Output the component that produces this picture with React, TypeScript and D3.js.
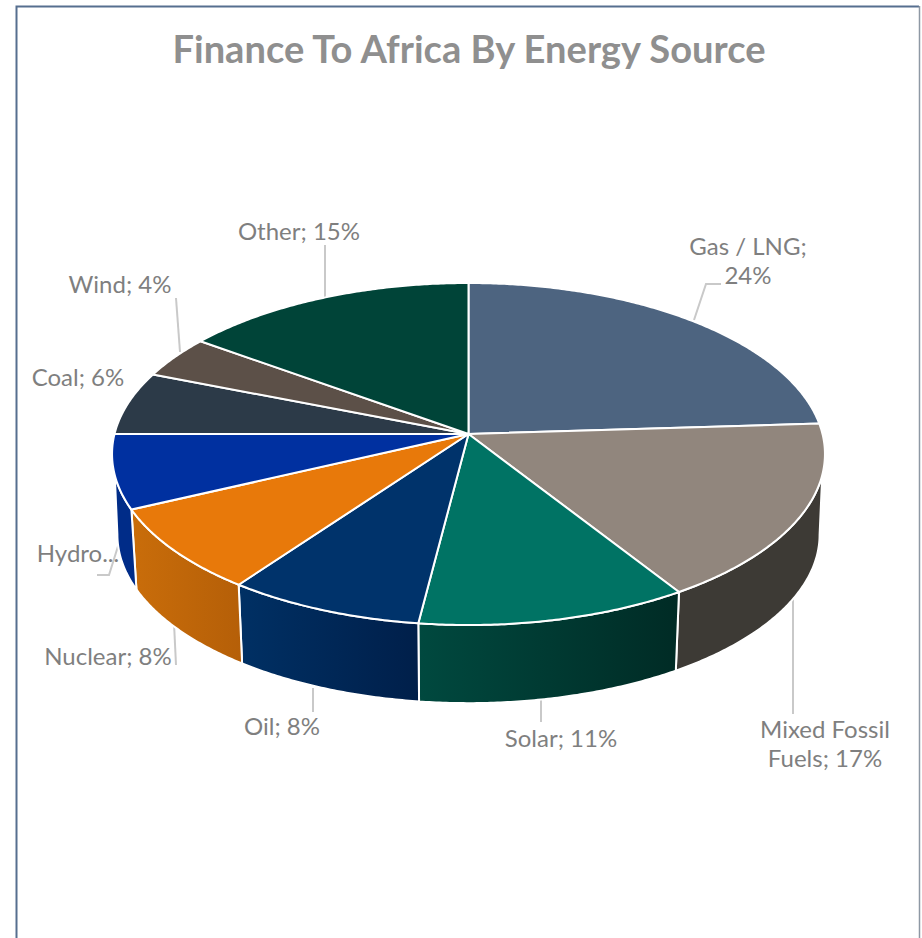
import React from "react";
import * as d3 from "d3";

// Share of finance by energy source, clockwise from twelve o'clock.
const sources = ["Gas / LNG", "Mixed Fossil Fuels", "Solar", "Oil", "Nuclear", "Hydro", "Coal", "Wind", "Other"];
const shares = [24, 17, 11, 8, 8, 7, 6, 4, 15];
const topColors = ["#4d6480", "#91867d", "#007364", "#00336b", "#e8790a", "#0030a0", "#2c3a48", "#5c5048", "#004438"];
const wallStart = ["#3d3a35", "#3d3a35", "#00493f", "#003064", "#c96d0a", "#002c88", "#222", "#222", "#222"];
const wallEnd = ["#3d3a35", "#3d3a35", "#002b25", "#001f4a", "#b55f08", "#002c88", "#222", "#222", "#222"];

const W = 922;
const H = 938;
const FONT = "Lato, 'Open Sans', sans-serif";
const LABEL = "#7f7f7f";
const LEADER = "#c9c9c9";

// Perspective disk: a unit circle sent through a homography so the hub sits above the ellipse centre.
const HUB_X = 468.5;
const HUB_Y = 434;
const KEEL = 0.117;
const A = 354;
const B = 168.66;
const WALL_DROP = 81;
const WALL_SCALE = 0.985;

const deg = Math.PI / 180;

function project(theta: number, radius: number, lower: boolean): [number, number] {
  const X = radius * Math.sin(theta);
  const Y = radius * Math.cos(theta);
  const w = 1 + KEEL * Y;
  const s = lower ? WALL_SCALE : 1;
  return [HUB_X + (s * A * X) / w, HUB_Y + (lower ? WALL_DROP : 0) - (s * B * Y) / w];
}

function arcPoints(a0: number, a1: number, lower: boolean): [number, number][] {
  const n = Math.max(2, Math.ceil(Math.abs(a1 - a0) / (0.5 * deg)));
  return d3.range(n + 1).map((i) => project(a0 + ((a1 - a0) * i) / n, 1, lower));
}

const line = d3.line<[number, number]>();

const slices = d3.pie<number>().sort(null).value((d) => d)(shares);

// Angular span of the visible side wall on the upper and lower rims.
const TOP_RANGE: [number, number] = [103.7 * deg, 256.3 * deg];
const LOW_RANGE: [number, number] = [96.7 * deg, 263.3 * deg];
const clampTo = (v: number, r: [number, number]) => Math.min(r[1], Math.max(r[0], v));

type LabelSpec = { lines: string[]; x: number; y: number; anchor: string };
const labelLayout: LabelSpec[] = [
  { lines: ["Gas / LNG;", "24%"], x: 748, y: 255, anchor: "middle" },
  { lines: ["Mixed Fossil", "Fuels; 17%"], x: 825, y: 738, anchor: "middle" },
  { lines: ["Solar; 11%"], x: 561, y: 747, anchor: "middle" },
  { lines: ["Oil; 8%"], x: 282, y: 735, anchor: "middle" },
  { lines: ["Nuclear; 8%"], x: 108, y: 665, anchor: "middle" },
  { lines: ["Hydro..."], x: 78, y: 562, anchor: "middle" },
  { lines: ["Coal; 6%"], x: 78, y: 386, anchor: "middle" },
  { lines: ["Wind; 4%"], x: 120, y: 293, anchor: "middle" },
  { lines: ["Other; 15%"], x: 299, y: 240, anchor: "middle" },
];

const leaderPaths: [number, number][][] = [
  [[694, 320], [706, 284], [721, 284]],
  [[793, 596], [793, 714]],
  [[541, 700], [541, 722]],
  [[313, 688], [313, 712]],
  [[174, 623], [176, 665]],
  [[119, 543], [109, 575], [97, 575]],
  [[176, 298], [180, 352]],
  [[325, 245], [325, 297]],
];

export default function App() {
  const walls = slices
    .map((s, i) => {
      const t0 = clampTo(s.startAngle, TOP_RANGE);
      const t1 = clampTo(s.endAngle, TOP_RANGE);
      const l0 = clampTo(s.startAngle, LOW_RANGE);
      const l1 = clampTo(s.endAngle, LOW_RANGE);
      if (t1 - t0 <= 0 && l1 - l0 <= 0) return null;
      const pts = [...arcPoints(t0, t1, false), ...arcPoints(l1, l0, true)];
      return { i, d: line(pts) + "Z" };
    })
    .filter(Boolean) as { i: number; d: string }[];

  return (
    <svg
      width={W}
      height={H}
      viewBox={`0 0 ${W} ${H}`}
      style={{ position: "absolute", left: 0, top: 0, display: "block", background: "#fff" }}
    >
      <defs>
        {walls.map(({ i }) => (
          <linearGradient key={i} id={`wall-${i}`} x1="0" x2="1" y1="0" y2="0">
            <stop offset="0" stopColor={wallStart[i]} />
            <stop offset="1" stopColor={wallEnd[i]} />
          </linearGradient>
        ))}
      </defs>

      {/* Chart frame, open at the bottom where the page cuts it off */}
      <path d={`M16.5 ${H} V6.5 H919`} fill="none" stroke="#566f8f" strokeWidth={2} />
      <line x1={919.5} y1={6} x2={919.5} y2={H} stroke="#8e98a4" strokeWidth={1.5} />

      <text x={469} y={63} textAnchor="middle" fontFamily={FONT} fontWeight={700} fontSize={38.1} fill="#8f8f8f">
        Finance To Africa By Energy Source
      </text>

      {leaderPaths.map((p, i) => (
        <path key={i} d={line(p) ?? ""} fill="none" stroke={LEADER} strokeWidth={2} />
      ))}

      {walls.map(({ i, d }) => (
        <path key={sources[i]} d={d} fill={`url(#wall-${i})`} stroke="#fff" strokeWidth={2} strokeLinejoin="round" />
      ))}

      {slices.map((s, i) => {
        const pts: [number, number][] = [[HUB_X, HUB_Y], ...arcPoints(s.startAngle, s.endAngle, false)];
        return <path key={sources[i]} d={line(pts) + "Z"} fill={topColors[i]} stroke="#fff" strokeWidth={2} strokeLinejoin="round" />;
      })}

      {labelLayout.map((l, i) => (
        <text key={i} x={l.x} y={l.y} textAnchor={l.anchor} fontFamily={FONT} fontSize={24} fill={LABEL}>
          {l.lines.map((t, j) => (
            <tspan key={j} x={l.x} dy={j === 0 ? 0 : 29}>
              {t}
            </tspan>
          ))}
        </text>
      ))}
    </svg>
  );
}
